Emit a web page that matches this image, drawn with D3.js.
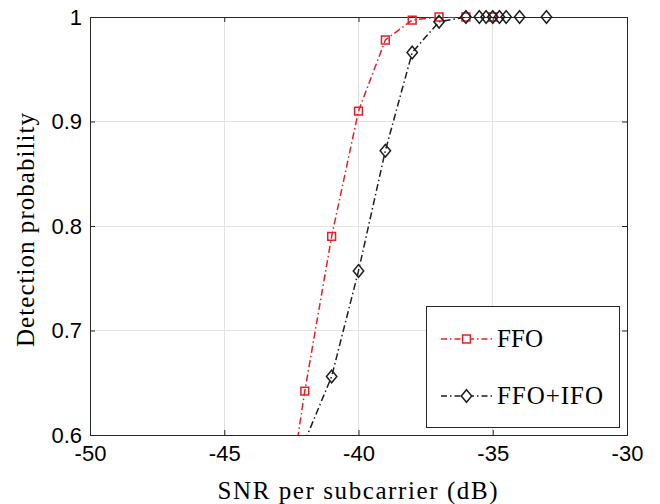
<!DOCTYPE html>
<html>
<head>
<meta charset="utf-8">
<script src="https://cdn.jsdelivr.net/npm/d3@7"></script>
<style>
  html, body { margin: 0; padding: 0; background: #fff; }
  svg { display: block; }
</style>
</head>
<body>
<svg id="chart" width="660" height="504"></svg>
<script>
// SNR per subcarrier (dB) and detection probability for each method
const ffoSnr = [-43, -42, -41, -40, -39, -38, -37, -36, -35];
const ffoProb = [0.473, 0.642, 0.790, 0.910, 0.978, 0.997, 1.0, 1.0, 1.0];

const ffoIfoSnr = [-42, -41, -40, -39, -38, -37, -36, -35.5, -35.25, -35, -34.75, -34.5, -34, -33];
const ffoIfoProb = [0.594, 0.656, 0.757, 0.872, 0.966, 0.9955, 1.0, 1.0, 1.0, 1.0, 1.0, 1.0, 1.0, 1.0];

const xTicks = [-50, -45, -40, -35, -30];
const yTicks = [0.6, 0.7, 0.8, 0.9, 1];
const seriesNames = ["FFO", "FFO+IFO"];

const svg = d3.select("#chart");
const margin = { left: 90, top: 17, right: 33, bottom: 69 };
const W = 660, H = 504;
const x = d3.scaleLinear().domain([-50, -30]).range([margin.left, W - margin.right]);
const y = d3.scaleLinear().domain([0.6, 1]).range([H - margin.bottom, margin.top]);

const axisColor = "#262626";
const gridColor = "#e3e3e3";
const tickFont = "'Liberation Sans', Arial, sans-serif";
const serifFont = "'Liberation Serif', 'Times New Roman', serif";

svg.append("defs").append("clipPath").attr("id", "plotClip")
  .append("rect")
  .attr("x", x.range()[0]).attr("y", y.range()[1])
  .attr("width", x.range()[1] - x.range()[0])
  .attr("height", y.range()[0] - y.range()[1]);

// grid
const grid = svg.append("g");
grid.selectAll("line.gx").data(xTicks.slice(1, -1)).join("line")
  .attr("x1", d => x(d)).attr("x2", d => x(d))
  .attr("y1", y.range()[0]).attr("y2", y.range()[1])
  .attr("stroke", gridColor).attr("stroke-width", 1).attr("shape-rendering", "crispEdges");
grid.selectAll("line.gy").data(yTicks.slice(1, -1)).join("line")
  .attr("y1", d => y(d)).attr("y2", d => y(d))
  .attr("x1", x.range()[0]).attr("x2", x.range()[1])
  .attr("stroke", gridColor).attr("stroke-width", 1).attr("shape-rendering", "crispEdges");

// axes with inward ticks on all four sides
const tickLen = 5;
const xAxisB = d3.axisBottom(x).tickValues(xTicks).tickSize(-tickLen).tickPadding(10);
const xAxisT = d3.axisTop(x).tickValues(xTicks).tickSize(-tickLen).tickFormat("");
const yAxisL = d3.axisLeft(y).tickValues(yTicks).tickSize(-tickLen).tickPadding(8).tickFormat(d => d === 1 ? "1" : d3.format(".1f")(d));
const yAxisR = d3.axisRight(y).tickValues(yTicks).tickSize(-tickLen).tickFormat("");

function styleAxis(g) {
  g.select(".domain").attr("stroke", axisColor).attr("stroke-width", 1);
  g.selectAll(".tick line").attr("stroke", axisColor).attr("stroke-width", 1);
  g.selectAll(".tick text").attr("fill", "#000").style("font-family", tickFont).style("font-size", "22px");
}

svg.append("g").attr("transform", `translate(0,${y.range()[0]})`).call(xAxisB).call(styleAxis)
  .selectAll(".tick text").text(d => String(d));
svg.append("g").attr("transform", `translate(0,${y.range()[1]})`).call(xAxisT).call(styleAxis);
svg.append("g").attr("transform", `translate(${x.range()[0]},0)`).call(yAxisL).call(styleAxis);
svg.append("g").attr("transform", `translate(${x.range()[1]},0)`).call(yAxisR).call(styleAxis);

// axis titles
svg.append("text")
  .attr("x", (x.range()[0] + x.range()[1]) / 2 - 1).attr("y", 499)
  .attr("text-anchor", "middle")
  .attr("textLength", 280).attr("lengthAdjust", "spacing")
  .style("font-family", serifFont).style("font-size", "25px").attr("fill", "#000")
  .text("SNR per subcarrier (dB)");
svg.append("text")
  .attr("transform", `translate(34,${(y.range()[0] + y.range()[1]) / 2 + 4}) rotate(-90)`)
  .attr("text-anchor", "middle")
  .attr("textLength", 234).attr("lengthAdjust", "spacing")
  .style("font-family", serifFont).style("font-size", "25px").attr("fill", "#000")
  .text("Detection probability");

// series
const series = [
  { name: seriesNames[0], xs: ffoSnr, ys: ffoProb, color: "#ee1c24", marker: "square" },
  { name: seriesNames[1], xs: ffoIfoSnr, ys: ffoIfoProb, color: "#1e1e1e", marker: "diamond" }
];
const dash = "7,3,1.5,3";

function markerPath(type) {
  if (type === "square") { const s = 3.9; return `M${-s},${-s}H${s}V${s}H${-s}Z`; }
  const w = 5.2, h = 6.3; return `M0,${-h}L${w},0L0,${h}L${-w},0Z`;
}

const plot = svg.append("g").attr("clip-path", "url(#plotClip)");
const markers = svg.append("g");
const line = d3.line().x(d => x(d[0])).y(d => y(d[1]));

series.forEach(s => {
  const pts = s.xs.map((v, i) => [v, s.ys[i]]);
  plot.append("path").datum(pts)
    .attr("d", line).attr("fill", "none")
    .attr("stroke", s.color).attr("stroke-width", 1.5).attr("stroke-dasharray", dash);
});
// markers are drawn only for points inside the axis limits, unclipped
series.forEach(s => {
  const pts = s.xs.map((v, i) => [v, s.ys[i]]).filter(d => d[1] >= y.domain()[0]);
  markers.selectAll(null).data(pts).join("path")
    .attr("transform", d => `translate(${x(d[0])},${y(d[1])})`)
    .attr("d", markerPath(s.marker))
    .attr("fill", "none").attr("stroke", s.color).attr("stroke-width", 1.5);
});

// legend
const lg = svg.append("g");
lg.append("rect")
  .attr("x", 426).attr("y", 306).attr("width", 193).attr("height", 121)
  .attr("fill", "#fff").attr("stroke", axisColor).attr("stroke-width", 1).attr("shape-rendering", "crispEdges");
series.forEach((s, i) => {
  const cy = 339 + i * 57;
  lg.append("line").attr("x1", 441).attr("x2", 492).attr("y1", cy).attr("y2", cy)
    .attr("stroke", s.color).attr("stroke-width", 1.5).attr("stroke-dasharray", "6,3,1.5,3");
  lg.append("path").attr("transform", `translate(466.5,${cy})`).attr("d", markerPath(s.marker))
    .attr("fill", "#fff").attr("stroke", s.color).attr("stroke-width", 1.5);
  lg.append("text").attr("x", 497).attr("y", cy + 8)
    .style("font-family", serifFont).style("font-size", "25px").attr("fill", "#000")
    .attr("textLength", i === 0 ? 46 : 106).attr("lengthAdjust", "spacing")
    .text(s.name);
});
</script>
</body>
</html>
